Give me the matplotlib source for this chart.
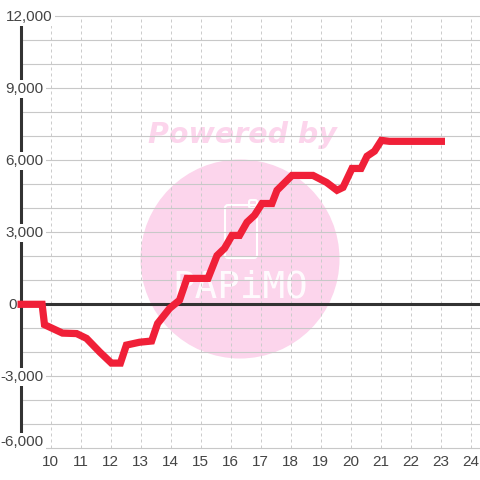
import matplotlib
matplotlib.use("Agg")
import matplotlib.pyplot as plt
from matplotlib.patches import Circle, FancyBboxPatch

plt.rcParams['font.family'] = ['Liberation Sans', 'DejaVu Sans']

hours = [8.9, 9.72, 9.8, 10.4, 10.87, 11.2, 11.65, 12.03, 12.33, 12.53, 12.97, 13.37,
         13.57, 13.97, 14.3, 14.55, 15.25, 15.55, 15.8, 16.05, 16.3, 16.55, 16.8,
         17.05, 17.38, 17.55, 18.05, 18.75, 19.2, 19.55, 19.75, 20.05, 20.35, 20.55,
         20.8, 21.03, 21.3, 23.15]
values = [0, 0, -850, -1200, -1220, -1420, -2000, -2450, -2450, -1700, -1580, -1530,
          -800, -170, 170, 1080, 1080, 2030, 2330, 2870, 2870, 3420, 3710,
          4200, 4200, 4750, 5370, 5370, 5080, 4750, 4870, 5660, 5660, 6170,
          6380, 6830, 6790, 6790]

x_ticks = [10, 11, 12, 13, 14, 15, 16, 17, 18, 19, 20, 21, 22, 23, 24]
y_grid = list(range(-6000, 13000, 1000))
y_ticks = [12000, 9000, 6000, 3000, 0, -3000, -6000]
y_labels = ["12,000", "9,000", "6,000", "3,000", "0", "-3,000", "-6,000"]
# pixel nudges for the value labels, relative to the left axis
y_label_dx = [32, 23, 23, 23, -4, 23, 23]
y_label_dy = [-1, -1, -1, -1, -1, -1, 6]

PINK = '#fcd5ec'
TEXT = '#444444'
DARK = '#333333'
GRID = '#c8c8c8'
RED = '#f02038'

fig = plt.figure(figsize=(4.8, 4.8), dpi=100)

# watermark sits under the chart, drawn in pixel coordinates
bg = fig.add_axes([0, 0, 1, 1], zorder=0)
bg.set_xlim(0, 480)
bg.set_ylim(480, 0)
bg.axis('off')
bg.add_patch(Circle((240, 259), 99.5, fc=PINK, ec='none'))
bg.text(242, 135, "Powered by", color=PINK, fontsize=20.5, fontweight='bold', style='italic',
        family='DejaVu Sans', ha='center', va='center')
bg.add_patch(FancyBboxPatch((227, 207), 28, 49, boxstyle="round,pad=2,rounding_size=3",
                            fc='none', ec='white', lw=1.5))
bg.add_patch(FancyBboxPatch((250, 201), 6, 6, boxstyle="round,pad=1,rounding_size=2",
                            fc='none', ec='white', lw=1.5))
bg.text(240, 288, "PAPiMO", color='white', fontsize=27, family='DejaVu Sans Mono',
        ha='center', va='center', alpha=0.9)

ax = fig.add_axes([20.5 / 480, 31.7 / 480, 459.5 / 480, 432 / 480], zorder=1)
ax.patch.set_alpha(0)
ax.set_xlim(9, 9 + 459.5 / 30)
ax.set_ylim(-6000, 12000)
for s in ax.spines.values():
    s.set_visible(False)

ax.set_xticks(x_ticks)
ax.set_yticks(y_grid)
ax.set_yticklabels([])
ax.tick_params(length=0, labelsize=11, labelcolor=TEXT, pad=5)
ax.grid(True, axis='x', color='#cccccc', lw=0.72, ls=(0, (3, 3)), clip_on=False)
ax.grid(True, axis='y', color=GRID, lw=0.8, clip_on=False)
ax.set_axisbelow(True)

ax.axhline(0, color=DARK, lw=2.2, zorder=2)
ax.axvline(9, color=DARK, lw=2.2, zorder=2, clip_on=False)

for val, lab, dx, dy in zip(y_ticks, y_labels, y_label_dx, y_label_dy):
    ax.annotate(lab, (0, val), xycoords=('axes fraction', 'data'), xytext=(dx, dy),
                textcoords='offset pixels', ha='right', va='center', fontsize=11, color=TEXT,
                bbox=dict(fc='white', ec='none', pad=1.5), zorder=3, annotation_clip=False)

ax.plot(hours, values, color=RED, lw=5.2, solid_joinstyle='miter', solid_capstyle='butt',
        zorder=4, clip_on=False)

fig.savefig("out.png", dpi=100)
